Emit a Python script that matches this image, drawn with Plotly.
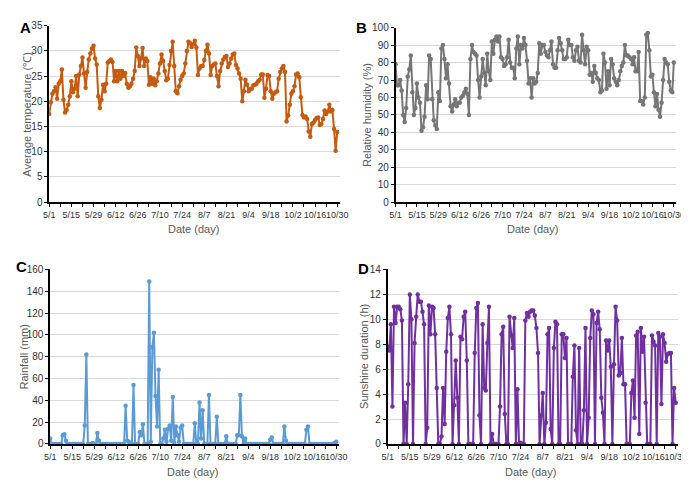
import plotly.graph_objects as go
import pandas as pd

dates = [f"{d.month}/{d.day}" for d in pd.date_range("2019-05-01", "2019-10-30")]
tick_labels = dates[::14]

temperature = [
    17.5, 19.8, 21.5, 22.0, 22.8, 20.5, 23.5, 24.0, 26.3, 20.3,
    17.8, 18.3, 19.3, 21.0, 24.0, 21.8, 22.5, 25.0, 21.0, 25.3,
    27.0, 28.7, 25.5, 22.7, 25.8, 28.3, 29.5, 30.5, 31.0, 28.5,
    27.3, 21.0, 18.7, 20.3, 23.3, 22.0, 23.5, 27.7, 28.0, 28.3,
    27.8, 24.0, 26.0, 24.0, 26.0, 24.5, 26.0, 25.0, 25.6, 23.5,
    22.7, 23.0, 23.5, 24.5, 26.0, 30.7, 29.0, 27.0, 28.5, 30.6,
    27.0, 28.5, 28.0, 23.3, 24.8, 23.5, 24.5, 23.2, 24.0, 25.5,
    27.5, 29.3, 28.0, 26.0, 24.2, 24.5, 27.2, 30.0, 31.8, 27.0,
    22.0, 21.6, 23.0, 24.3, 25.0, 25.5, 27.5, 30.0, 31.8, 31.5,
    30.8, 31.3, 32.0, 30.7, 25.2, 26.5, 27.0, 27.0, 28.2, 30.0,
    31.2, 29.5, 25.2, 27.0, 27.3, 27.5, 25.0, 23.0, 26.0, 27.5,
    28.3, 28.8, 29.0, 26.8, 27.5, 28.5, 29.3, 29.5, 27.2, 26.5,
    25.5, 24.5, 20.0, 22.0, 24.3, 23.3, 22.0, 22.5, 22.5, 23.2,
    23.3, 23.5, 24.0, 24.3, 25.3, 25.3, 20.7, 22.5, 25.2, 25.0,
    22.0, 20.5, 21.5, 21.8, 22.0, 24.5, 25.8, 26.5, 27.0, 25.8,
    16.0, 17.2, 19.3, 21.5, 22.0, 23.0, 25.3, 25.5, 24.8, 20.8,
    17.3, 16.8, 17.0, 16.5, 14.0, 13.0, 15.5, 15.8, 16.3, 16.7,
    16.8, 15.3, 15.5, 16.5, 18.2, 17.5, 18.0, 19.3, 18.0, 18.3,
    14.5, 10.2, 13.9,
]

humidity = [
    79, 67, 67, 70, 64, 50, 46, 54, 72, 76,
    84, 63, 50, 54, 68, 60, 57, 41, 43, 49,
    67, 59, 84, 82, 59, 47, 44, 42, 63, 58,
    88, 90, 82, 71, 79, 68, 55, 52, 56, 59,
    55, 57, 57, 60, 61, 63, 65, 62, 50, 82,
    90, 86, 85, 84, 70, 60, 72, 82, 74, 67,
    85, 75, 70, 92, 85, 93, 95, 92, 95, 83,
    82, 78, 79, 83, 93, 80, 77, 77, 71, 88,
    95, 79, 90, 88, 94, 90, 81, 68, 71, 60,
    71, 68, 69, 74, 91, 85, 90, 90, 86, 84,
    83, 87, 92, 79, 77, 77, 87, 94, 91, 87,
    82, 82, 83, 93, 90, 90, 83, 81, 87, 89,
    81, 80, 96, 87, 79, 89, 87, 73, 74, 69,
    78, 74, 71, 70, 63, 64, 85, 80, 65, 75,
    67, 82, 79, 71, 69, 67, 70, 75, 78, 80,
    90, 84, 84, 83, 82, 79, 83, 75, 75, 86,
    58, 58, 56, 60, 96, 97, 87, 72, 73, 63,
    55, 62, 53, 49, 57, 70, 82, 80, 79, 69,
    64, 63, 80,
]

rainfall = [
    5, 0, 0, 0, 0, 0, 0, 0, 8, 9,
    3, 0, 0, 0, 0, 0, 0, 0, 0, 0,
    0, 0, 17, 82, 0, 0, 0, 1, 0, 0,
    10, 3, 0, 0, 0, 0, 0, 0, 0, 0,
    0, 0, 0, 0, 0, 0, 0, 0, 35, 3,
    2, 0, 0, 54, 0, 0, 0, 11, 8, 18,
    0, 0, 0, 149, 2, 89, 102, 44, 16, 68,
    0, 0, 5, 13, 2, 14, 17, 3, 43, 1,
    16, 8, 2, 15, 17, 0, 0, 0, 0, 0,
    0, 0, 19, 0, 0, 38, 5, 31, 0, 0,
    0, 45, 0, 0, 0, 0, 25, 0, 0, 0,
    0, 0, 7, 0, 0, 0, 0, 0, 0, 8,
    8, 45, 7, 0, 5, 0, 0, 0, 0, 0,
    0, 0, 0, 0, 0, 0, 0, 0, 0, 0,
    4, 6, 0, 0, 0, 0, 0, 0, 0, 16,
    3, 0, 0, 0, 0, 0, 0, 0, 0, 0,
    0, 0, 0, 13, 16, 0, 0, 0, 0, 0,
    0, 0, 0, 0, 0, 0, 0, 0, 0, 0,
    0, 1, 2,
]

sunshine = [
    7.8, 7.5, 9.6, 3.0, 11.0, 9.7, 11.0, 11.0, 10.8, 9.9,
    0.0, 3.3, 0.0, 4.8, 12.0, 10.0, 0.0, 8.1, 10.2, 12.0,
    11.4, 11.4, 10.6, 9.6, 0.0, 1.3, 11.1, 8.8, 11.0, 10.9,
    8.8, 4.5, 0.0, 0.0, 0.6, 4.5, 1.6, 7.4, 10.1, 11.0,
    8.8, 0.0, 3.1, 6.7, 3.7, 0.0, 8.6, 8.4, 10.2, 10.6,
    6.7, 0.0, 0.0, 0.0, 0.0, 7.3, 10.9, 11.3, 2.3, 0.0,
    9.6, 4.5, 4.3, 8.1, 11.0, 0.0, 0.8, 0.0, 0.0, 0.0,
    0.0, 3.0, 8.8, 9.4, 2.4, 0.0, 0.0, 10.2, 8.7, 7.7,
    10.1, 0.0, 4.4, 0.0, 0.1, 0.0, 0.0, 9.9, 10.5, 10.2,
    10.6, 10.7, 10.7, 10.3, 9.3, 7.3, 0.0, 2.3, 4.1, 0.0,
    1.7, 8.8, 9.3, 1.2, 0.0, 7.7, 9.8, 9.6, 0.0, 0.0,
    8.8, 8.8, 6.9, 8.5, 0.0, 0.0, 0.0, 5.4, 7.9, 1.1,
    0.0, 7.7, 0.0, 0.0, 2.7, 9.3, 0.0, 2.1, 8.5, 10.7,
    10.4, 0.0, 9.7, 10.6, 9.2, 3.7, 2.5, 0.0, 8.3, 7.5,
    8.3, 6.2, 0.0, 6.4, 11.0, 9.9, 5.5, 5.7, 8.5, 4.8,
    4.8, 0.0, 0.0, 0.0, 4.1, 5.1, 2.1, 8.7, 9.0, 0.8,
    9.3, 7.4, 8.6, 3.3, 0.0, 0.0, 0.0, 8.7, 8.2, 7.9,
    0.0, 8.9, 8.6, 3.2, 8.8, 8.1, 6.6, 7.2, 7.3, 7.3,
    0.0, 4.5, 3.3,
]

n = len(dates)
for name, s in [("temperature", temperature), ("humidity", humidity),
                ("rainfall", rainfall), ("sunshine", sunshine)]:
    assert len(s) == n, f"{name}: {len(s)} vs {n}"

W, H = 689, 481
def px(x): return x / W
def py(y): return 1 - y / H

FONT = "Liberation Sans, Arial, sans-serif"
TICKC = "#333333"
TITLEC = "#595959"

panels = [
    dict(y=temperature, color="#C55A11", title="Average temperature (℃)", ymax=35, dtick=5,
         l=36, r=333, t=12, b=193, letter=(4, 3), ytx=13, xtx=183, xty=221),
    dict(y=humidity, color="#767676", title="Relative humidity (%)", ymax=100, dtick=10,
         l=390, r=677, t=14, b=193, letter=(348, 3), ytx=361, xtx=530, xty=221),
    dict(y=rainfall, color="#5B9BD5", title="Rainfall (mm)", ymax=160, dtick=20,
         l=37, r=332, t=262, b=441, letter=(0, 248), ytx=10, xtx=182, xty=470),
    dict(y=sunshine, color="#7030A0", title="Sunshine duration (h)", ymax=14, dtick=2,
         l=382, r=679, t=262, b=441, letter=(350, 250), ytx=358, xtx=528, xty=470),
]

fig = go.Figure()
annotations = []
x_idx = list(range(n))
for i, p in enumerate(panels):
    k = "" if i == 0 else str(i + 1)
    fig.add_trace(go.Scatter(
        x=x_idx, y=p["y"], mode="lines+markers",
        line=dict(color=p["color"], width=2),
        marker=dict(color=p["color"], size=4.5),
        xaxis="x" + k, yaxis="y" + k, showlegend=False,
        hovertext=dates,
    ))
    fig.layout["xaxis" + k] = dict(
        domain=[px(p["l"]), px(p["r"])], anchor="y" + k,
        range=[0, 183.6], tickvals=list(range(0, n, 14)), ticktext=tick_labels,
        tickangle=0,
        showgrid=False, zeroline=False, showline=True, linecolor="#000", linewidth=1.5,
        ticks="outside", ticklen=3, tickcolor="#000",
        minor=dict(tickvals=list(range(7, n, 14)), ticks="outside", ticklen=3, tickcolor="#000"),
        tickfont=dict(family=FONT, size=9, color=TICKC),
    )
    fig.layout["yaxis" + k] = dict(
        domain=[py(p["b"]), py(p["t"])], anchor="x" + k,
        range=[0, p["ymax"]], dtick=p["dtick"],
        showgrid=True, gridcolor="#d9d9d9", gridwidth=1, zeroline=False,
        showline=True, linecolor="#000", linewidth=1.5,
        ticks="outside", ticklen=3, tickcolor="#000",
        tickfont=dict(family=FONT, size=10, color=TICKC),
    )
    lx, ly = p["letter"]
    annotations.append(dict(text="<b>" + "ABCD"[i] + "</b>", x=px(lx), y=py(ly),
                            xref="paper", yref="paper", xanchor="left", yanchor="top",
                            showarrow=False, font=dict(family=FONT, size=15, color="#000")))
    annotations.append(dict(text=p["title"], x=px(p["ytx"]), y=py((p["t"] + p["b"]) / 2),
                            xref="paper", yref="paper", textangle=-90,
                            xanchor="center", yanchor="middle", showarrow=False,
                            font=dict(family=FONT, size=11, color=TITLEC)))
    annotations.append(dict(text="Date (day)", x=px(p["xtx"]), y=py(p["xty"]),
                            xref="paper", yref="paper", xanchor="center", yanchor="middle",
                            showarrow=False, font=dict(family=FONT, size=11, color=TITLEC)))

fig.update_layout(
    width=W, height=H, margin=dict(l=0, r=0, t=0, b=0),
    paper_bgcolor="white", plot_bgcolor="white",
    annotations=annotations,
)
fig.write_html("out.html")
